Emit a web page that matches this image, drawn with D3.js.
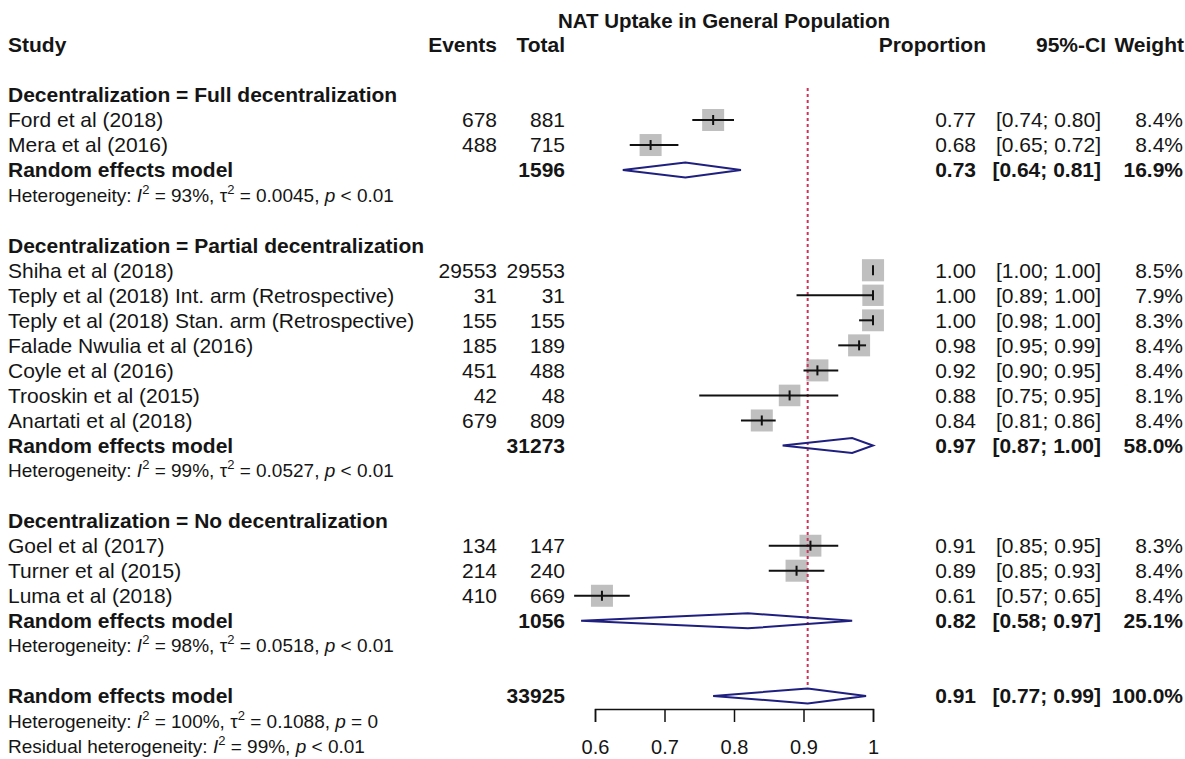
<!DOCTYPE html>
<html>
<head>
<meta charset="utf-8">
<script src="https://cdn.jsdelivr.net/npm/d3@7"></script>
<style>
  html, body { margin: 0; padding: 0; background: #ffffff; }
  svg { display: block; }
  text { font-family: "Liberation Sans", Arial, sans-serif; fill: #151515; }
</style>
</head>
<body>
<svg id="chart" width="1185" height="759"></svg>
<script>
// ---- Data ---------------------------------------------------------------
const chartTitle = "NAT Uptake in General Population";

const groupLabels = [
  "Decentralization = Full decentralization",
  "Decentralization = Partial decentralization",
  "Decentralization = No decentralization"
];

const studyNames = [
  "Ford et al (2018)",
  "Mera et al (2016)",
  "Shiha et al (2018)",
  "Teply et al (2018) Int. arm (Retrospective)",
  "Teply et al (2018) Stan. arm (Retrospective)",
  "Falade Nwulia et al (2016)",
  "Coyle et al (2016)",
  "Trooskin et al (2015)",
  "Anartati et al (2018)",
  "Goel et al (2017)",
  "Turner et al (2015)",
  "Luma et al (2018)"
];
const studyGroup   = [0, 0, 1, 1, 1, 1, 1, 1, 1, 2, 2, 2];
const studyEvents  = [678, 488, 29553, 31, 155, 185, 451, 42, 679, 134, 214, 410];
const studyTotals  = [881, 715, 29553, 31, 155, 189, 488, 48, 809, 147, 240, 669];
const studyProps   = [0.77, 0.68, 1.00, 1.00, 1.00, 0.98, 0.92, 0.88, 0.84, 0.91, 0.89, 0.61];
const studyLower   = [0.74, 0.65, 1.00, 0.89, 0.98, 0.95, 0.90, 0.75, 0.81, 0.85, 0.85, 0.57];
const studyUpper   = [0.80, 0.72, 1.00, 1.00, 1.00, 0.99, 0.95, 0.95, 0.86, 0.95, 0.93, 0.65];
const studyWeights = [8.4, 8.4, 8.5, 7.9, 8.3, 8.4, 8.4, 8.1, 8.4, 8.3, 8.4, 8.4];

const groupTotals  = [1596, 31273, 1056];
const groupProps   = [0.73, 0.97, 0.82];
const groupLower   = [0.64, 0.87, 0.58];
const groupUpper   = [0.81, 1.00, 0.97];
const groupWeights = [16.9, 58.0, 25.1];
const groupI2      = ["93%", "99%", "98%"];
const groupTau2    = ["0.0045", "0.0527", "0.0518"];
const groupP       = ["< 0.01", "< 0.01", "< 0.01"];

const overallTotal  = 33925;
const overallProp   = 0.906;
const overallLower  = 0.77;
const overallUpper  = 0.99;
const overallWeight = 100.0;
const overallI2     = "100%";
const overallTau2   = "0.1088";
const overallP      = "= 0";
const residualI2    = "99%";
const residualP     = "< 0.01";

const axisTicks = [0.6, 0.7, 0.8, 0.9, 1];

// ---- Layout -------------------------------------------------------------
const svg = d3.select("#chart");
const fmtProp = d3.format(".2f");
const fmtW = v => d3.format(".1f")(v) + "%";

const FS = 21;      // main text size
const FS_HET = 19;  // heterogeneity lines

// row index -> vertical centre
const y = d3.scaleLinear().domain([0, 25]).range([120, 746]);
// proportion -> horizontal position
const x = d3.scaleLinear().domain([0.6, 1]).range([595, 873]);
// weight -> square side
const box = d3.scaleSqrt().domain([0, 8.4]).range([0, 22]);

const col = {
  study: 8, events: 497, total: 565,
  prop: 976, ci: 1101, weight: 1183
};

// Build the row list: heading, studies, subgroup model, heterogeneity, blank
const rows = [];
let r = -1;
groupLabels.forEach((g, gi) => {
  rows.push({ type: "heading", row: r, label: g });
  r++;
  studyNames.forEach((n, i) => {
    if (studyGroup[i] !== gi) return;
    rows.push({ type: "study", row: r, i });
    r++;
  });
  rows.push({ type: "group", row: r, gi });
  r++;
  rows.push({ type: "het", row: r, gi });
  r += 2;
});
const overallRow = r;

function txt(xp, yp, s, opts = {}) {
  return svg.append("text")
    .attr("x", xp).attr("y", yp).attr("dy", "0.35em")
    .attr("font-size", opts.size || FS)
    .attr("font-weight", opts.bold ? "bold" : null)
    .attr("text-anchor", opts.anchor || "start")
    .text(s);
}

// Heterogeneity statement with italic symbols and superscripts
function hetLine(yp, prefix, i2, tau2, p) {
  const t = svg.append("text")
    .attr("x", col.study).attr("y", yp).attr("dy", "0.35em")
    .attr("font-size", FS_HET);
  t.append("tspan").text(prefix + ": ");
  t.append("tspan").attr("font-style", "italic").text("I");
  t.append("tspan").attr("font-size", 13).attr("dy", -8).text("2");
  t.append("tspan").attr("dy", 8).text(" = " + i2 + ", ");
  if (tau2 !== null) {
    t.append("tspan").text("\u03c4");
    t.append("tspan").attr("font-size", 13).attr("dy", -8).text("2");
    t.append("tspan").attr("dy", 8).text(" = " + tau2 + ", ");
  }
  t.append("tspan").attr("font-style", "italic").text("p");
  t.append("tspan").text(" " + p);
}

function diamond(est, lo, hi, yc) {
  const h = 7.5;
  const pts = [[x(lo), yc], [x(est), yc - h], [x(hi), yc], [x(est), yc + h]];
  svg.append("path")
    .attr("d", d3.line()(pts) + "Z")
    .attr("fill", "none")
    .attr("stroke", "#1f1f80")
    .attr("stroke-width", 2);
}

// ---- Title and column headers ------------------------------------------
txt(724, 21, chartTitle, { bold: true, anchor: "middle", size: 20.5 });
const headerY = 45;
txt(col.study, headerY, "Study", { bold: true });
txt(col.events, headerY, "Events", { bold: true, anchor: "end" });
txt(col.total, headerY, "Total", { bold: true, anchor: "end" });
txt(986, headerY, "Proportion", { bold: true, anchor: "end" });
txt(1106, headerY, "95%-CI", { bold: true, anchor: "end" });
txt(1184, headerY, "Weight", { bold: true, anchor: "end" });

// ---- Study squares (drawn first so the reference line sits over them) ---
const studyRows = rows.filter(d => d.type === "study");
svg.append("g").selectAll("rect").data(studyRows).join("rect")
  .attr("x", d => x(studyProps[d.i]) - box(studyWeights[d.i]) / 2)
  .attr("y", d => y(d.row) - box(studyWeights[d.i]) / 2)
  .attr("width", d => box(studyWeights[d.i]))
  .attr("height", d => box(studyWeights[d.i]))
  .attr("fill", "#bfbfbf");

// ---- Reference line at the pooled estimate -----------------------------
svg.append("line")
  .attr("x1", x(overallProp)).attr("x2", x(overallProp))
  .attr("y1", 88).attr("y2", y(overallRow) - 7.5)
  .attr("stroke", "#cc3358")
  .attr("stroke-width", 2)
  .attr("stroke-dasharray", "3,3");

// ---- Confidence intervals and point ticks ------------------------------
const ci = svg.append("g").attr("stroke", "#111").attr("stroke-width", 2);
studyRows.forEach(d => {
  const yc = y(d.row);
  ci.append("line")
    .attr("x1", x(studyLower[d.i])).attr("x2", x(studyUpper[d.i]))
    .attr("y1", yc).attr("y2", yc);
  ci.append("line")
    .attr("x1", x(studyProps[d.i])).attr("x2", x(studyProps[d.i]))
    .attr("y1", yc - 5).attr("y2", yc + 5);
});

// ---- Text columns and subgroup summaries -------------------------------
rows.forEach(d => {
  const yc = y(d.row);
  if (d.type === "heading") {
    txt(col.study, yc, d.label, { bold: true });
  } else if (d.type === "study") {
    const i = d.i;
    txt(col.study, yc, studyNames[i]);
    txt(col.events, yc, String(studyEvents[i]), { anchor: "end" });
    txt(col.total, yc, String(studyTotals[i]), { anchor: "end" });
    txt(col.prop, yc, fmtProp(studyProps[i]), { anchor: "end" });
    txt(col.ci, yc, "[" + fmtProp(studyLower[i]) + "; " + fmtProp(studyUpper[i]) + "]", { anchor: "end" });
    txt(col.weight, yc, fmtW(studyWeights[i]), { anchor: "end" });
  } else if (d.type === "group") {
    const g = d.gi;
    txt(col.study, yc, "Random effects model", { bold: true });
    txt(col.total, yc, String(groupTotals[g]), { bold: true, anchor: "end" });
    txt(col.prop, yc, fmtProp(groupProps[g]), { bold: true, anchor: "end" });
    txt(col.ci, yc, "[" + fmtProp(groupLower[g]) + "; " + fmtProp(groupUpper[g]) + "]", { bold: true, anchor: "end" });
    txt(col.weight, yc, fmtW(groupWeights[g]), { bold: true, anchor: "end" });
    diamond(groupProps[g], groupLower[g], groupUpper[g], yc);
  } else if (d.type === "het") {
    const g = d.gi;
    hetLine(yc, "Heterogeneity", groupI2[g], groupTau2[g], groupP[g]);
  }
});

// ---- Overall summary ---------------------------------------------------
const yo = y(overallRow);
txt(col.study, yo, "Random effects model", { bold: true });
txt(col.total, yo, String(overallTotal), { bold: true, anchor: "end" });
txt(col.prop, yo, fmtProp(overallProp), { bold: true, anchor: "end" });
txt(col.ci, yo, "[" + fmtProp(overallLower) + "; " + fmtProp(overallUpper) + "]", { bold: true, anchor: "end" });
txt(col.weight, yo, fmtW(overallWeight), { bold: true, anchor: "end" });
diamond(overallProp, overallLower, overallUpper, yo);
hetLine(y(overallRow + 1), "Heterogeneity", overallI2, overallTau2, overallP);
hetLine(y(overallRow + 2), "Residual heterogeneity", residualI2, null, residualP);

// ---- Axis ----------------------------------------------------------------
const axisG = svg.append("g").attr("transform", "translate(0,709)");
axisG.call(d3.axisBottom(x).tickValues(axisTicks).tickFormat(d3.format("")).tickSizeOuter(0).tickSize(13).tickPadding(18));
axisG.select(".domain").attr("stroke", "#111").attr("stroke-width", 1.5);
axisG.selectAll(".tick line").attr("stroke", "#111").attr("stroke-width", 1.5);
axisG.selectAll(".tick text")
  .attr("font-size", 20)
  .attr("font-family", "Liberation Sans, Arial, sans-serif")
  .attr("fill", "#151515");
</script>
</body>
</html>
